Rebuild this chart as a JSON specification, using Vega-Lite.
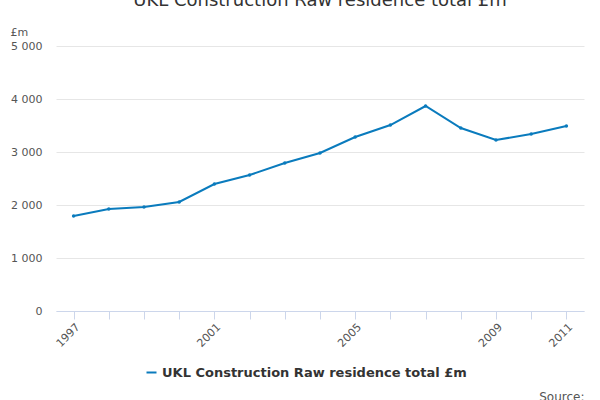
{
  "$schema": "https://vega.github.io/schema/vega-lite/v6.json",
  "width": 528,
  "height": 265,
  "autosize": "none",
  "padding": {"left": 56, "right": 16, "top": 46, "bottom": 89},
  "title": {"text": "UKL Construction Raw residence total £m", "fontSize": 18, "font": "DejaVu Sans", "fontWeight": "normal", "color": "#333333", "anchor": "middle", "offset": 16},
  "config": {"view": {"stroke": null}, "font": "DejaVu Sans"},
  "data": {"values": [
    {"year": "1997", "value": 1792, "series": "UKL Construction Raw residence total £m"},
    {"year": "1998", "value": 1925, "series": "UKL Construction Raw residence total £m"},
    {"year": "1999", "value": 1962, "series": "UKL Construction Raw residence total £m"},
    {"year": "2000", "value": 2057, "series": "UKL Construction Raw residence total £m"},
    {"year": "2001", "value": 2396, "series": "UKL Construction Raw residence total £m"},
    {"year": "2002", "value": 2566, "series": "UKL Construction Raw residence total £m"},
    {"year": "2003", "value": 2792, "series": "UKL Construction Raw residence total £m"},
    {"year": "2004", "value": 2981, "series": "UKL Construction Raw residence total £m"},
    {"year": "2005", "value": 3283, "series": "UKL Construction Raw residence total £m"},
    {"year": "2006", "value": 3509, "series": "UKL Construction Raw residence total £m"},
    {"year": "2007", "value": 3868, "series": "UKL Construction Raw residence total £m"},
    {"year": "2008", "value": 3453, "series": "UKL Construction Raw residence total £m"},
    {"year": "2009", "value": 3226, "series": "UKL Construction Raw residence total £m"},
    {"year": "2010", "value": 3340, "series": "UKL Construction Raw residence total £m"},
    {"year": "2011", "value": 3491, "series": "UKL Construction Raw residence total £m"}
  ]},
  "mark": {"type": "line", "point": {"size": 12, "filled": true}, "strokeWidth": 2},
  "encoding": {
    "x": {
      "field": "year", "type": "ordinal",
      "scale": {"type": "point", "padding": 0.5},
      "axis": {
        "labelAngle": -45, "labelExpr": "indexof(['1997','2001','2005','2009','2011'], datum.value) >= 0 ? datum.value : ''",
        "labelColor": "#555555", "labelFontSize": 11, "domainColor": "#ccd6eb", "tickColor": "#ccd6eb", "tickSize": 8, "grid": false,
        "title": "Source:", "titleAnchor": "end", "titleAlign": "right", "titleFontWeight": "normal", "titleColor": "#555555", "titleFontSize": 12, "titleY": 80, "titleX": 528
      }
    },
    "y": {
      "field": "value", "type": "quantitative",
      "scale": {"domain": [0, 5000]},
      "axis": {
        "values": [0, 1000, 2000, 3000, 4000, 5000],
        "labelExpr": "replace(format(datum.value, ','), ',', ' ')",
        "labelColor": "#555555", "labelFontSize": 11, "domain": false, "ticks": false, "gridColor": "#e6e6e6", "labelPadding": 14,
        "title": "£m", "titleAngle": 0, "titleAnchor": "end", "titleAlign": "left", "titleX": -46, "titleY": -9, "titleFontWeight": "normal", "titleColor": "#555555", "titleFontSize": 11
      }
    },
    "color": {
      "field": "series", "type": "nominal",
      "scale": {"range": ["#0a7bbd"]},
      "legend": {"orient": "none", "legendX": 89, "legendY": 320, "direction": "horizontal", "title": null, "labelFontSize": 13, "labelFontWeight": "bold", "labelColor": "#333333", "symbolType": "stroke", "symbolStrokeWidth": 2, "labelLimit": 400}
    }
  }
}
